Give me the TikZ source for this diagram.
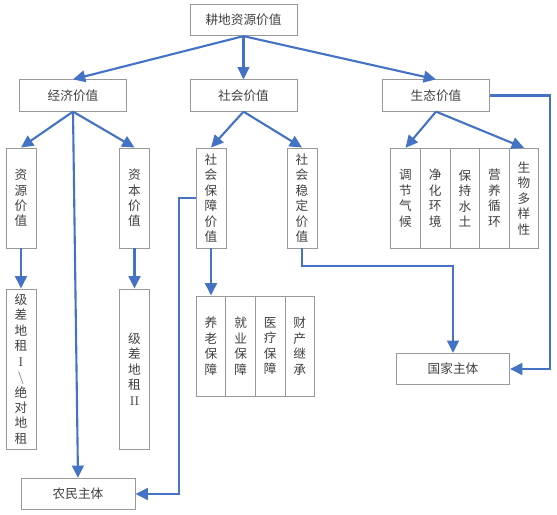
\documentclass[tikz,border=0pt]{standalone}
\usepackage{fontspec}
\newfontfamily\cjk{Noto Sans CJK SC}
\usetikzlibrary{arrows.meta, positioning}

\definecolor{linkblue}{HTML}{4472C4}
\definecolor{boxgray}{HTML}{999999}
\definecolor{txtgray}{HTML}{404040}

\begin{document}
\begin{tikzpicture}[
    x=0.03cm, y=-0.03cm,
    >={Triangle[length=10.5pt,width=10pt]},
    box/.style={draw=boxgray, line width=0.8pt, text=txtgray, inner sep=1pt,
                font=\cjk\fontsize{10.8}{13.2}\selectfont, align=center},
    wide/.style={box, minimum width=3.21cm, minimum height=0.94cm},
    tall/.style={box, minimum width=0.9cm, minimum height=3cm},
    cell/.style={box, minimum width=0.888cm, minimum height=3cm},
    link/.style={->, draw=linkblue, line width=1.8pt}
  ]
  \useasboundingbox (0,0) rectangle (557,515);

  % Top
  \node[wide] (root) at (243.5,20) {耕地资源价值};

  % Three values
  \node[wide] (econ) at (73,95.5) {经济价值};
  \node[wide] (soc) at (243.5,95.5) {社会价值};
  \node[wide] (eco) at (436,95.5) {生态价值};

  % Economic branch
  \node[tall] (ziyuan) at (21,198) {资\\源\\价\\值};
  \node[tall] (ziben) at (134.5,198) {资\\本\\价\\值};
  \node[tall, minimum height=4.8cm] (rent1) at (21,369)
    {级\\差\\地\\租\\{\rmfamily I}\\{\rmfamily\textbackslash}\\绝\\对\\地\\租};
  \node[tall, minimum height=4.8cm] (rent2) at (134.5,369)
    {级\\差\\地\\租\\{\rmfamily II}};
  \node[wide, minimum width=3.42cm] (farmer) at (78,494) {农民主体};

  % Social branch
  \node[tall] (shebao) at (211,198) {社\\会\\保\\障\\价\\值};
  \node[tall] (wending) at (302,198) {社\\会\\稳\\定\\价\\值};
  \node[cell] (yanglao) at (211,346) {养\\老\\保\\障};
  \node[cell] (jiuye) at (240.6,346) {就\\业\\保\\障};
  \node[cell] (yiliao) at (270.2,346) {医\\疗\\保\\障};
  \node[cell] (caichan) at (299.8,346) {财\\产\\继\\承};

  % Ecological branch
  \node[cell] (qihou) at (405.5,198.3) {调\\节\\气\\候};
  \node[cell] (huanjing) at (435.2,198.3) {净\\化\\环\\境};
  \node[cell] (shuitu) at (464.9,198.3) {保\\持\\水\\土};
  \node[cell] (xunhuan) at (494.5,198.3) {营\\养\\循\\环};
  \node[cell] (duoyang) at (524,198.3) {生\\物\\多\\样\\性};
  \node[wide, minimum width=3.39cm] (state) at (453,369) {国家主体};

  % Turning points
  \coordinate (c1) at (179,198);
  \coordinate (c2) at (453,266);
  \coordinate (c3) at (550,95.5);

  % Connectors
  \draw[link] (root.south) -- (econ.north);
  \draw[link] (root.south) -- (soc.north);
  \draw[link] (root.south) -- (eco.north);

  \draw[link] (econ.south) -- (ziyuan.north);
  \draw[link] (econ.south) -- (ziben.north);
  \draw[link] (econ.south) -- (farmer.north);
  \draw[link] (ziyuan) -- (rent1);
  \draw[link] (ziben) -- (rent2);

  \draw[link] (soc.south) -- (shebao.north);
  \draw[link] (soc.south) -- (wending.north);
  \draw[link] (shebao) -- (yanglao);
  \draw[link] (shebao.west) -- (c1) |- (farmer.east);
  \draw[link] (wending.south) |- (c2) -- (state.north);

  \draw[link] (eco.south) -- (qihou.north);
  \draw[link] (eco.south) -- (duoyang.north);
  \draw[link] (eco.east) -- (c3) |- (state.east);
\end{tikzpicture}
\end{document}
